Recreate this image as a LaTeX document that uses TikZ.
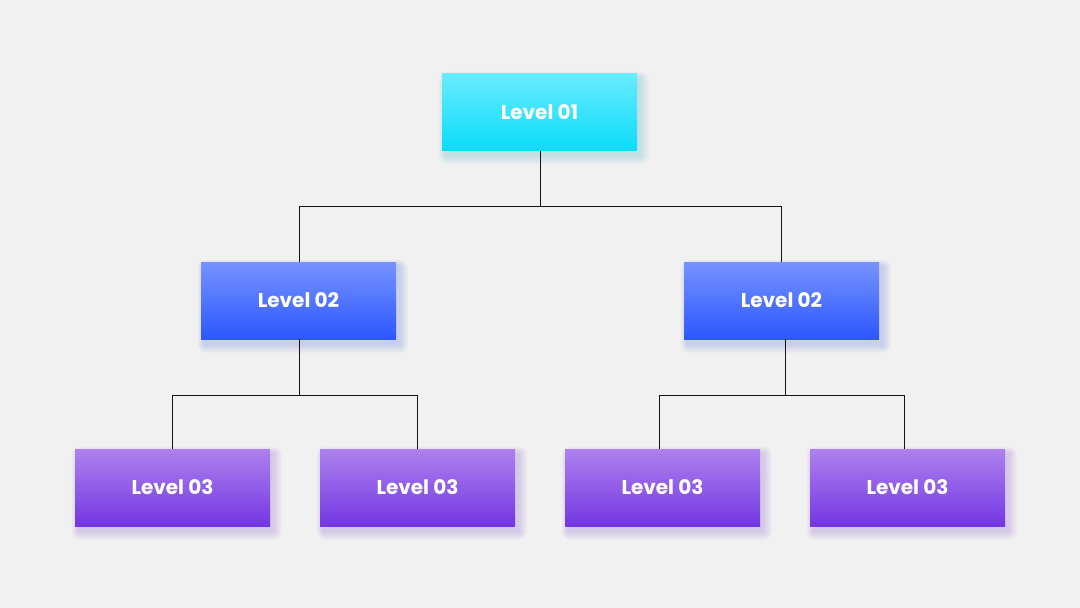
\documentclass[tikz,border=0pt]{standalone}
\usepackage{fontspec}
\setmainfont{Poppins}
\usetikzlibrary{backgrounds}
\definecolor{bg}{HTML}{F1F1F1}
\definecolor{c1t}{HTML}{68ECFF}
\definecolor{c1b}{HTML}{0BDCF9}
\definecolor{c2t}{HTML}{7793FF}
\definecolor{c2b}{HTML}{2C57FF}
\definecolor{c3t}{HTML}{AD82EE}
\definecolor{c3b}{HTML}{7336E2}
\definecolor{g1}{HTML}{5FB8D0}
\definecolor{g2}{HTML}{6A80E8}
\definecolor{g3}{HTML}{9A70E0}
\definecolor{linec}{HTML}{151515}
\newcommand{\myglow}[2]{%
  \begin{scope}[on background layer]
    \foreach \r in {1,...,9}{%
      \fill[#2, opacity=0.035, rounded corners={\r*1pt}]
        ([shift={({-\r*0.8pt+4pt},{\r*0.8pt-5pt})}]#1.north west) rectangle
        ([shift={({\r*1pt+3pt},{-\r*1pt-5pt})}]#1.south east);
    }
  \end{scope}}
\begin{document}
\begin{tikzpicture}[x=1pt,y=-1pt,
  box/.style={minimum width=195pt, minimum height=77pt, inner sep=0pt,
    text=white, font=\fontsize{20}{22}\selectfont\bfseries},
  lvlone/.style={box, top color=c1t, bottom color=c1b},
  lvltwo/.style={box, top color=c2t, bottom color=c2b},
  lvlthree/.style={box, top color=c3t, bottom color=c3b},
  conn/.style={draw=linec, line width=1pt}]
\begin{scope}[on background layer]
\fill[bg] (0,0) rectangle (1080,608);
\end{scope}
\node[lvlone] (l1) at (539.5,112) {Level 01};
\node[lvltwo] (l2a) at (298.5,300.5) {Level 02};
\node[lvltwo] (l2b) at (781.5,300.5) {Level 02};
\node[lvlthree] (l3a) at (172.5,487.5) {Level 03};
\node[lvlthree] (l3b) at (417.5,487.5) {Level 03};
\node[lvlthree] (l3c) at (662.5,487.5) {Level 03};
\node[lvlthree] (l3d) at (907.5,487.5) {Level 03};
\myglow{l1}{g1}
\myglow{l2a}{g2}
\myglow{l2b}{g2}
\myglow{l3a}{g3}
\myglow{l3b}{g3}
\myglow{l3c}{g3}
\myglow{l3d}{g3}
\coordinate (j1) at (540,206.5);
\coordinate (j2a) at (299,395.5);
\coordinate (j2b) at (785,395.5);
\draw[conn] ([xshift=0.5pt]l1.south) -- (j1);
\draw[conn] ([xshift=0.5pt]l2a.north) |- (j1) -| ([xshift=-0.5pt]l2b.north);
\draw[conn] ([xshift=0.5pt]l2a.south) -- (j2a);
\draw[conn] (l3a.north) |- (j2a) -| (l3b.north);
\draw[conn] ([xshift=3.5pt]l2b.south) -- (j2b);
\draw[conn] ([xshift=-3.5pt]l3c.north) |- (j2b) -| ([xshift=-3.5pt]l3d.north);
\end{tikzpicture}
\end{document}
